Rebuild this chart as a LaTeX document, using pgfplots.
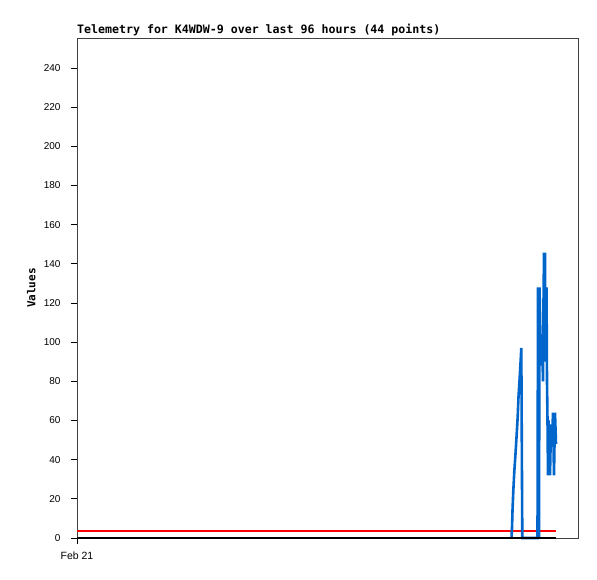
\documentclass[border=0pt]{standalone}
\usepackage{fontspec}
\setmainfont{Liberation Sans}
\newfontfamily\monofont{DejaVu Sans Mono}
\usepackage{pgfplots}
\pgfplotsset{compat=1.18}
\definecolor{tblue}{HTML}{0066CC}
\definecolor{tred}{HTML}{FF0000}
\begin{document}
\begin{tikzpicture}[x=1pt,y=1pt]
\path[use as bounding box] (-77,-41) rectangle (520,538);
\begin{axis}[
    at={(0,0)}, anchor=south west,
    scale only axis,
    width=501pt, height=500pt,
    xmin=0, xmax=501,
    ymin=0, ymax=255.3,
    axis line style={black!75, line width=0.8pt},
    tick style={black, line width=0.8pt},
    tick align=outside,
    ytick pos=left, xtick pos=bottom,
    major tick length=6pt,
    ytick={0,20,...,240},
    xtick={0},
    xticklabels={Feb 21},
    /pgf/number format/assume math mode=true,
    yticklabel style={font=\fontsize{10}{11}\selectfont, xshift=-7pt},
    xticklabel style={font=\fontsize{10.5}{12}\selectfont, yshift=-4pt},
    ylabel={\monofont\bfseries Values},
    ylabel style={font=\fontsize{11}{12}\selectfont, at={(axis description cs:0,0.5)}, anchor=south, yshift=38pt},
    clip=false,
]
\addplot[tred, line width=2.6pt] coordinates {(0,3.6) (479,3.6)};
\addplot[tblue, line width=2.6pt, line join=miter] coordinates {
(434.5,0) (435,5) (435.5,14) (436.3,24) (437.3,34) (438.5,43) (439.7,53) (440.7,62)
(441.5,72) (442.7,82) (443.7,91) (444.3,97) (445.3,0) (460.5,0) (461,128) (462,0)
(462.5,128) (463.5,100) (464,88) (465,104) (466,80) (466.5,120) (467,145) (468,145)
(468.5,90) (469.5,128) (470,80) (470.5,60) (471,32) (471.5,60) (472,55) (473,32)
(474,58) (475,48) (476,64) (477,32) (478,64) (479,48)
};
\addplot[black, line width=2.8pt] coordinates {(0,0) (479,0)};
\node[anchor=south west, inner sep=0pt, font=\monofont\bfseries\fontsize{11.6}{13}\selectfont]
  at (rel axis cs:0,1) [yshift=1.5pt] {Telemetry for K4WDW-9 over last 96 hours (44 points)};
\end{axis}
\end{tikzpicture}
\end{document}
